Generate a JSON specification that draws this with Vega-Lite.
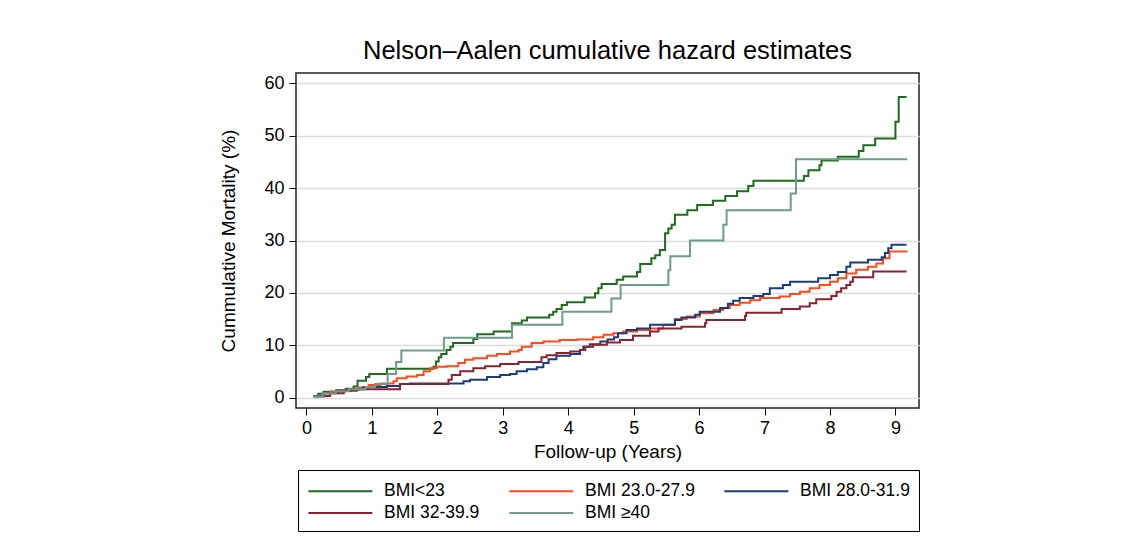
{
  "$schema": "https://vega.github.io/schema/vega-lite/v6.json",
  "width": 623,
  "height": 335,
  "autosize": "none",
  "padding": {"left": 296, "top": 73, "right": 220, "bottom": 151},
  "background": "white",
  "title": {"text": "Nelson–Aalen cumulative hazard estimates", "fontSize": 25.5, "font": "Liberation Sans", "fontWeight": "normal", "color": "#000000", "offset": 9, "anchor": "middle"},
  "data": {"values": [
    {"s":"BMI<23","t":0.10,"v":0.3},{"s":"BMI<23","t":0.18,"v":0.7},{"s":"BMI<23","t":0.26,"v":1.1},{"s":"BMI<23","t":0.45,"v":1.4},{"s":"BMI<23","t":0.60,"v":1.7},{"s":"BMI<23","t":0.72,"v":2.1},{"s":"BMI<23","t":0.78,"v":3.2},{"s":"BMI<23","t":0.91,"v":3.9},{"s":"BMI<23","t":0.96,"v":4.5},{"s":"BMI<23","t":1.23,"v":5.5},{"s":"BMI<23","t":1.94,"v":5.9},{"s":"BMI<23","t":1.98,"v":6.9},{"s":"BMI<23","t":2.02,"v":7.7},{"s":"BMI<23","t":2.06,"v":8.3},{"s":"BMI<23","t":2.14,"v":9.1},{"s":"BMI<23","t":2.20,"v":9.7},{"s":"BMI<23","t":2.24,"v":10.4},{"s":"BMI<23","t":2.55,"v":11.2},{"s":"BMI<23","t":2.61,"v":12.1},{"s":"BMI<23","t":2.86,"v":12.6},{"s":"BMI<23","t":3.14,"v":14.2},{"s":"BMI<23","t":3.29,"v":14.7},{"s":"BMI<23","t":3.37,"v":15.3},{"s":"BMI<23","t":3.71,"v":15.8},{"s":"BMI<23","t":3.77,"v":16.4},{"s":"BMI<23","t":3.82,"v":16.9},{"s":"BMI<23","t":3.90,"v":17.7},{"s":"BMI<23","t":3.98,"v":18.2},{"s":"BMI<23","t":4.25,"v":19.1},{"s":"BMI<23","t":4.41,"v":19.9},{"s":"BMI<23","t":4.46,"v":20.9},{"s":"BMI<23","t":4.51,"v":21.7},{"s":"BMI<23","t":4.74,"v":22.5},{"s":"BMI<23","t":4.84,"v":23.1},{"s":"BMI<23","t":5.05,"v":24.0},{"s":"BMI<23","t":5.10,"v":25.5},{"s":"BMI<23","t":5.27,"v":26.6},{"s":"BMI<23","t":5.33,"v":27.2},{"s":"BMI<23","t":5.40,"v":28.2},{"s":"BMI<23","t":5.48,"v":31.4},{"s":"BMI<23","t":5.53,"v":32.3},{"s":"BMI<23","t":5.58,"v":33.0},{"s":"BMI<23","t":5.63,"v":34.9},{"s":"BMI<23","t":5.82,"v":35.8},{"s":"BMI<23","t":5.97,"v":36.8},{"s":"BMI<23","t":6.21,"v":37.6},{"s":"BMI<23","t":6.40,"v":38.5},{"s":"BMI<23","t":6.58,"v":39.4},{"s":"BMI<23","t":6.75,"v":40.4},{"s":"BMI<23","t":6.83,"v":41.4},{"s":"BMI<23","t":7.60,"v":42.3},{"s":"BMI<23","t":7.67,"v":43.4},{"s":"BMI<23","t":7.84,"v":44.4},{"s":"BMI<23","t":7.87,"v":45.3},{"s":"BMI<23","t":8.12,"v":46.0},{"s":"BMI<23","t":8.44,"v":47.1},{"s":"BMI<23","t":8.51,"v":48.2},{"s":"BMI<23","t":8.69,"v":49.5},{"s":"BMI<23","t":9.00,"v":52.7},{"s":"BMI<23","t":9.05,"v":57.4},{"s":"BMI<23","t":9.17,"v":57.4},

    {"s":"BMI 23.0-27.9","t":0.10,"v":0.3},{"s":"BMI 23.0-27.9","t":0.25,"v":0.8},{"s":"BMI 23.0-27.9","t":0.36,"v":1.15},{"s":"BMI 23.0-27.9","t":0.59,"v":1.5},{"s":"BMI 23.0-27.9","t":0.80,"v":1.9},{"s":"BMI 23.0-27.9","t":0.95,"v":2.4},{"s":"BMI 23.0-27.9","t":1.13,"v":2.7},{"s":"BMI 23.0-27.9","t":1.33,"v":3.1},{"s":"BMI 23.0-27.9","t":1.38,"v":3.7},{"s":"BMI 23.0-27.9","t":1.53,"v":4.0},{"s":"BMI 23.0-27.9","t":1.69,"v":4.3},{"s":"BMI 23.0-27.9","t":1.79,"v":5.0},{"s":"BMI 23.0-27.9","t":1.89,"v":5.6},{"s":"BMI 23.0-27.9","t":1.99,"v":5.9},{"s":"BMI 23.0-27.9","t":2.14,"v":6.0},{"s":"BMI 23.0-27.9","t":2.32,"v":6.6},{"s":"BMI 23.0-27.9","t":2.42,"v":7.2},{"s":"BMI 23.0-27.9","t":2.55,"v":7.5},{"s":"BMI 23.0-27.9","t":2.76,"v":8.0},{"s":"BMI 23.0-27.9","t":2.91,"v":8.3},{"s":"BMI 23.0-27.9","t":3.11,"v":8.8},{"s":"BMI 23.0-27.9","t":3.24,"v":9.1},{"s":"BMI 23.0-27.9","t":3.29,"v":9.7},{"s":"BMI 23.0-27.9","t":3.44,"v":10.4},{"s":"BMI 23.0-27.9","t":3.62,"v":10.7},{"s":"BMI 23.0-27.9","t":3.87,"v":11.0},{"s":"BMI 23.0-27.9","t":4.13,"v":11.1},{"s":"BMI 23.0-27.9","t":4.38,"v":11.5},{"s":"BMI 23.0-27.9","t":4.54,"v":12.0},{"s":"BMI 23.0-27.9","t":4.69,"v":12.3},{"s":"BMI 23.0-27.9","t":4.84,"v":12.6},{"s":"BMI 23.0-27.9","t":5.05,"v":12.9},{"s":"BMI 23.0-27.9","t":5.25,"v":13.2},{"s":"BMI 23.0-27.9","t":5.45,"v":13.9},{"s":"BMI 23.0-27.9","t":5.63,"v":15.0},{"s":"BMI 23.0-27.9","t":5.81,"v":15.5},{"s":"BMI 23.0-27.9","t":6.01,"v":16.1},{"s":"BMI 23.0-27.9","t":6.22,"v":16.7},{"s":"BMI 23.0-27.9","t":6.37,"v":17.1},{"s":"BMI 23.0-27.9","t":6.47,"v":17.7},{"s":"BMI 23.0-27.9","t":6.62,"v":18.1},{"s":"BMI 23.0-27.9","t":6.78,"v":18.6},{"s":"BMI 23.0-27.9","t":6.93,"v":19.0},{"s":"BMI 23.0-27.9","t":7.23,"v":19.3},{"s":"BMI 23.0-27.9","t":7.39,"v":19.8},{"s":"BMI 23.0-27.9","t":7.54,"v":20.2},{"s":"BMI 23.0-27.9","t":7.69,"v":20.9},{"s":"BMI 23.0-27.9","t":7.84,"v":21.5},{"s":"BMI 23.0-27.9","t":8.00,"v":22.1},{"s":"BMI 23.0-27.9","t":8.12,"v":22.8},{"s":"BMI 23.0-27.9","t":8.25,"v":23.7},{"s":"BMI 23.0-27.9","t":8.40,"v":24.4},{"s":"BMI 23.0-27.9","t":8.58,"v":25.0},{"s":"BMI 23.0-27.9","t":8.71,"v":25.6},{"s":"BMI 23.0-27.9","t":8.81,"v":26.6},{"s":"BMI 23.0-27.9","t":8.91,"v":27.9},{"s":"BMI 23.0-27.9","t":9.17,"v":28.1},

    {"s":"BMI 28.0-31.9","t":0.11,"v":0.2},{"s":"BMI 28.0-31.9","t":0.26,"v":0.8},{"s":"BMI 28.0-31.9","t":0.47,"v":1.3},{"s":"BMI 28.0-31.9","t":0.67,"v":1.6},{"s":"BMI 28.0-31.9","t":0.87,"v":2.0},{"s":"BMI 28.0-31.9","t":1.23,"v":2.2},{"s":"BMI 28.0-31.9","t":1.43,"v":2.6},{"s":"BMI 28.0-31.9","t":1.58,"v":2.7},{"s":"BMI 28.0-31.9","t":2.40,"v":3.1},{"s":"BMI 28.0-31.9","t":2.50,"v":3.4},{"s":"BMI 28.0-31.9","t":2.76,"v":3.9},{"s":"BMI 28.0-31.9","t":2.96,"v":4.3},{"s":"BMI 28.0-31.9","t":3.11,"v":4.5},{"s":"BMI 28.0-31.9","t":3.21,"v":5.0},{"s":"BMI 28.0-31.9","t":3.37,"v":5.4},{"s":"BMI 28.0-31.9","t":3.52,"v":5.8},{"s":"BMI 28.0-31.9","t":3.62,"v":6.6},{"s":"BMI 28.0-31.9","t":3.70,"v":7.3},{"s":"BMI 28.0-31.9","t":3.82,"v":8.0},{"s":"BMI 28.0-31.9","t":4.03,"v":8.3},{"s":"BMI 28.0-31.9","t":4.18,"v":9.1},{"s":"BMI 28.0-31.9","t":4.23,"v":9.7},{"s":"BMI 28.0-31.9","t":4.33,"v":10.2},{"s":"BMI 28.0-31.9","t":4.49,"v":10.7},{"s":"BMI 28.0-31.9","t":4.60,"v":11.1},{"s":"BMI 28.0-31.9","t":4.70,"v":11.5},{"s":"BMI 28.0-31.9","t":4.76,"v":12.3},{"s":"BMI 28.0-31.9","t":4.89,"v":12.9},{"s":"BMI 28.0-31.9","t":5.05,"v":13.2},{"s":"BMI 28.0-31.9","t":5.25,"v":13.9},{"s":"BMI 28.0-31.9","t":5.63,"v":14.8},{"s":"BMI 28.0-31.9","t":5.73,"v":15.3},{"s":"BMI 28.0-31.9","t":5.94,"v":15.8},{"s":"BMI 28.0-31.9","t":6.01,"v":16.4},{"s":"BMI 28.0-31.9","t":6.32,"v":17.1},{"s":"BMI 28.0-31.9","t":6.44,"v":17.9},{"s":"BMI 28.0-31.9","t":6.52,"v":18.5},{"s":"BMI 28.0-31.9","t":6.62,"v":19.0},{"s":"BMI 28.0-31.9","t":6.83,"v":19.4},{"s":"BMI 28.0-31.9","t":6.98,"v":19.8},{"s":"BMI 28.0-31.9","t":7.08,"v":20.9},{"s":"BMI 28.0-31.9","t":7.28,"v":21.5},{"s":"BMI 28.0-31.9","t":7.39,"v":22.1},{"s":"BMI 28.0-31.9","t":7.82,"v":22.8},{"s":"BMI 28.0-31.9","t":8.00,"v":23.4},{"s":"BMI 28.0-31.9","t":8.12,"v":24.0},{"s":"BMI 28.0-31.9","t":8.25,"v":25.0},{"s":"BMI 28.0-31.9","t":8.31,"v":25.8},{"s":"BMI 28.0-31.9","t":8.58,"v":26.3},{"s":"BMI 28.0-31.9","t":8.79,"v":26.8},{"s":"BMI 28.0-31.9","t":8.84,"v":27.6},{"s":"BMI 28.0-31.9","t":8.89,"v":28.5},{"s":"BMI 28.0-31.9","t":8.94,"v":29.2},{"s":"BMI 28.0-31.9","t":9.17,"v":29.2},

    {"s":"BMI 32-39.9","t":0.11,"v":0.3},{"s":"BMI 32-39.9","t":0.36,"v":0.8},{"s":"BMI 32-39.9","t":0.57,"v":1.3},{"s":"BMI 32-39.9","t":0.77,"v":1.6},{"s":"BMI 32-39.9","t":1.43,"v":2.6},{"s":"BMI 32-39.9","t":2.17,"v":3.4},{"s":"BMI 32-39.9","t":2.22,"v":4.3},{"s":"BMI 32-39.9","t":2.35,"v":5.0},{"s":"BMI 32-39.9","t":2.55,"v":5.6},{"s":"BMI 32-39.9","t":2.73,"v":6.0},{"s":"BMI 32-39.9","t":2.96,"v":6.4},{"s":"BMI 32-39.9","t":3.24,"v":6.8},{"s":"BMI 32-39.9","t":3.59,"v":7.7},{"s":"BMI 32-39.9","t":3.67,"v":8.1},{"s":"BMI 32-39.9","t":3.82,"v":8.5},{"s":"BMI 32-39.9","t":4.03,"v":8.8},{"s":"BMI 32-39.9","t":4.18,"v":9.1},{"s":"BMI 32-39.9","t":4.26,"v":9.7},{"s":"BMI 32-39.9","t":4.38,"v":10.1},{"s":"BMI 32-39.9","t":4.59,"v":10.5},{"s":"BMI 32-39.9","t":4.79,"v":11.0},{"s":"BMI 32-39.9","t":4.99,"v":11.8},{"s":"BMI 32-39.9","t":5.25,"v":12.6},{"s":"BMI 32-39.9","t":5.38,"v":13.2},{"s":"BMI 32-39.9","t":5.73,"v":13.5},{"s":"BMI 32-39.9","t":6.09,"v":14.2},{"s":"BMI 32-39.9","t":6.11,"v":14.8},{"s":"BMI 32-39.9","t":6.70,"v":15.6},{"s":"BMI 32-39.9","t":6.72,"v":16.2},{"s":"BMI 32-39.9","t":7.26,"v":16.9},{"s":"BMI 32-39.9","t":7.54,"v":17.4},{"s":"BMI 32-39.9","t":7.69,"v":18.0},{"s":"BMI 32-39.9","t":7.79,"v":18.8},{"s":"BMI 32-39.9","t":8.02,"v":19.4},{"s":"BMI 32-39.9","t":8.10,"v":20.2},{"s":"BMI 32-39.9","t":8.17,"v":20.9},{"s":"BMI 32-39.9","t":8.25,"v":21.5},{"s":"BMI 32-39.9","t":8.31,"v":22.1},{"s":"BMI 32-39.9","t":8.35,"v":23.0},{"s":"BMI 32-39.9","t":8.66,"v":24.1},{"s":"BMI 32-39.9","t":9.17,"v":24.1},

    {"s":"BMI ≥40","t":0.10,"v":0.2},{"s":"BMI ≥40","t":0.25,"v":0.8},{"s":"BMI ≥40","t":0.45,"v":1.2},{"s":"BMI ≥40","t":0.65,"v":1.6},{"s":"BMI ≥40","t":0.90,"v":2.0},{"s":"BMI ≥40","t":1.05,"v":2.6},{"s":"BMI ≥40","t":1.24,"v":4.5},{"s":"BMI ≥40","t":1.37,"v":6.8},{"s":"BMI ≥40","t":1.45,"v":9.0},{"s":"BMI ≥40","t":2.10,"v":11.4},{"s":"BMI ≥40","t":3.14,"v":13.9},{"s":"BMI ≥40","t":3.91,"v":16.4},{"s":"BMI ≥40","t":4.66,"v":18.9},{"s":"BMI ≥40","t":4.80,"v":21.5},{"s":"BMI ≥40","t":5.53,"v":24.3},{"s":"BMI ≥40","t":5.56,"v":27.0},{"s":"BMI ≥40","t":5.86,"v":30.0},{"s":"BMI ≥40","t":6.37,"v":33.0},{"s":"BMI ≥40","t":6.42,"v":35.8},{"s":"BMI ≥40","t":7.40,"v":39.0},{"s":"BMI ≥40","t":7.48,"v":45.5},{"s":"BMI ≥40","t":9.18,"v":45.5}
  ]},
  "mark": {"type": "line", "interpolate": "step-after", "strokeWidth": 2, "clip": true},
  "encoding": {
    "x": {"field": "t", "type": "quantitative",
      "scale": {"domain": [-0.16, 9.36], "nice": false, "zero": false},
      "axis": {"values": [0,1,2,3,4,5,6,7,8,9], "title": "Follow-up (Years)", "grid": false, "domain": false, "tickSize": 7, "tickColor": "#000000", "labelPadding": 4, "titlePadding": 5}},
    "y": {"field": "v", "type": "quantitative",
      "scale": {"domain": [-2, 62], "nice": false, "zero": false},
      "axis": {"values": [0,10,20,30,40,50,60], "title": "Cummulative Mortality (%)", "grid": true, "gridColor": "#dcdcdc", "gridWidth": 1.5, "domain": false, "tickSize": 7, "tickColor": "#000000", "labelPadding": 5, "titlePadding": 25}},
    "color": {"field": "s", "type": "nominal",
      "scale": {"domain": ["BMI<23", "BMI 23.0-27.9", "BMI 28.0-31.9", "BMI 32-39.9", "BMI ≥40"],
                "range": ["#1f6b1f", "#ff4a1c", "#1b3e7a", "#8b2232", "#6e9c84"]},
      "legend": {"title": null, "orient": "none", "legendX": 2, "legendY": 397, "direction": "horizontal", "columns": 3,
        "symbolType": "M-1,0H5", "symbolSize": 455, "symbolStrokeWidth": 2, "labelOffset": 53,
        "columnPadding": 25, "rowPadding": 1, "padding": 9, "strokeColor": "#000000",
        "labelFontSize": 17.5, "labelFont": "Liberation Sans", "labelColor": "#000000", "labelLimit": 300}}
  },
  "config": {
    "font": "Liberation Sans",
    "view": {"stroke": "#222222", "strokeWidth": 1.5},
    "axis": {"labelFontSize": 18, "labelColor": "#000000", "titleFontSize": 19, "titleFontWeight": "normal", "titleColor": "#000000", "labelFont": "Liberation Sans", "titleFont": "Liberation Sans"}
  }
}
